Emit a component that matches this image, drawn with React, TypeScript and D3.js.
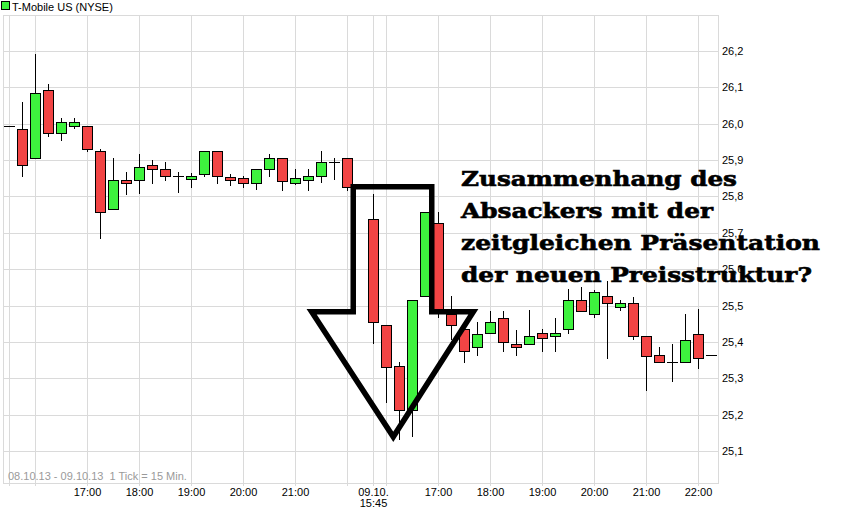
import React from 'react';
import * as d3 from 'd3';

// Time slots (x categories): day 1 and day 2, separated by an empty slot
const day1Times = ["15:30","15:45","16:00","16:15","16:30","16:45","17:00","17:15","17:30","17:45","18:00","18:15","18:30","18:45","19:00","19:15","19:30","19:45","20:00","20:15","20:30","20:45","21:00","21:15","21:30","21:45","22:00"];
const day2Times = ["15:45","16:00","16:15","16:30","16:45","17:00","17:15","17:30","17:45","18:00","18:15","18:30","18:45","19:00","19:15","19:30","19:45","20:00","20:15","20:30","20:45","21:00","21:15","21:30","21:45","22:00","22:15"];
const slots = [...day1Times.map(t => "08.10. " + t), "gap", ...day2Times.map(t => "09.10. " + t)];
const candleTimes = slots.filter(s => s !== "gap");

const opens = [25.993,25.985,25.905,26.092,25.974,25.993,25.993,25.924,25.765,25.844,25.844,25.886,25.875,25.855,25.847,25.861,25.924,25.853,25.850,25.836,25.875,25.905,25.836,25.844,25.855,25.894,25.905,
  25.737,25.446,25.333,25.212,25.525,25.726,25.476,25.435,25.385,25.424,25.465,25.393,25.393,25.424,25.415,25.435,25.514,25.476,25.525,25.495,25.506,25.415,25.363,25.344,25.344,25.421,25.363];
const highs = [25.993,26.060,26.192,26.109,26.016,26.016,25.993,25.931,25.906,25.867,25.917,25.900,25.895,25.867,25.864,25.924,25.924,25.861,25.855,25.875,25.917,25.905,25.875,25.875,25.924,25.905,25.905,
  25.807,25.446,25.344,25.514,25.756,25.756,25.526,25.455,25.455,25.484,25.485,25.433,25.488,25.435,25.465,25.545,25.550,25.542,25.567,25.514,25.523,25.415,25.385,25.393,25.476,25.490,25.363];
const lows = [25.993,25.854,25.905,25.964,25.953,25.985,25.923,25.683,25.765,25.805,25.808,25.835,25.843,25.810,25.824,25.854,25.835,25.830,25.824,25.819,25.854,25.814,25.831,25.814,25.836,25.844,25.814,
  25.393,25.231,25.129,25.139,25.525,25.465,25.405,25.343,25.361,25.424,25.373,25.362,25.393,25.373,25.373,25.421,25.484,25.465,25.354,25.484,25.404,25.264,25.341,25.289,25.344,25.325,25.363];
const closes = [25.993,25.886,26.084,25.974,26.004,26.004,25.930,25.756,25.844,25.836,25.880,25.875,25.855,25.855,25.855,25.924,25.855,25.844,25.836,25.875,25.905,25.842,25.850,25.855,25.894,25.894,25.825,
  25.455,25.332,25.212,25.514,25.756,25.482,25.446,25.374,25.421,25.454,25.399,25.385,25.415,25.410,25.424,25.514,25.484,25.536,25.506,25.506,25.415,25.360,25.344,25.344,25.404,25.355,25.363];

// Y ticks
const yTicks = [25.1,25.2,25.3,25.4,25.5,25.6,25.7,25.8,25.9,26.0,26.1,26.2];
// Vertical grid lines and x labels (slot names)
const gridSlots = ["08.10. 15:30","08.10. 16:00","08.10. 17:00","08.10. 18:00","08.10. 19:00","08.10. 20:00","08.10. 21:00","08.10. 22:00","09.10. 15:45","09.10. 16:00","09.10. 17:00","09.10. 18:00","09.10. 19:00","09.10. 20:00","09.10. 21:00","09.10. 22:00"];
const labelSlots = ["08.10. 17:00","08.10. 18:00","08.10. 19:00","08.10. 20:00","08.10. 21:00","09.10. 15:45","09.10. 17:00","09.10. 18:00","09.10. 19:00","09.10. 20:00","09.10. 21:00","09.10. 22:00"];
const labelTexts = [["17:00"],["18:00"],["19:00"],["20:00"],["21:00"],["09.10.","15:45"],["17:00"],["18:00"],["19:00"],["20:00"],["21:00"],["22:00"]];

// Annotation arrow in (slot index, price) space
const arrowIdx = [26.48, 32.52, 32.52, 35.72, 29.56, 23.28, 26.48];
const arrowVal = [25.827, 25.827, 25.483, 25.483, 25.139, 25.483, 25.483];
const noteLines = ["Zusammenhang des", "Absackers mit der", "zeitgleichen Präsentation", "der neuen Preisstruktur?"];
const noteWidths = [276, 252, 359, 351];

const title = "T-Mobile US (NYSE)";
const footer = "08.10.13 - 09.10.13  1 Tick = 15 Min.";

const W = 845, H = 520;
const L = 3, R = 718, T = 15, B = 483;
const RED = "#f24444";
const GREEN = "#3ef23e";
const GRID = "#dadada";

export default function App() {
  const xi = d3.scaleLinear().domain([0, slots.length - 1]).range([9, 9 + 13 * (slots.length - 1)]);
  const x = (s: string) => xi(slots.indexOf(s));
  const y = d3.scaleLinear().domain([25.1, 26.2]).range([451, 51]);
  const fmt = (v: number) => d3.format(".1f")(v).replace(".", ",");
  const crisp = (v: number) => Math.round(v) + 0.5;

  const arrowPts = arrowIdx.map((v, i) => [xi(v), y(arrowVal[i])] as [number, number]);
  const arrowPath = d3.line()(arrowPts) + "Z";

  const font = "'Liberation Sans', Arial, sans-serif";

  return (
    <svg width={W} height={H} style={{ position: 'absolute', left: 0, top: 0, background: '#fff' }}>
      <rect x={0} y={0} width={W} height={H} fill="#fff" />
      {/* grid */}
      {yTicks.map(t => (
        <line key={'h' + t} x1={L} x2={R} y1={crisp(y(t))} y2={crisp(y(t))} stroke={GRID} strokeWidth={1} />
      ))}
      {gridSlots.map(s => (
        <line key={'v' + s} x1={x(s) + 0.5} x2={x(s) + 0.5} y1={T} y2={B + 3} stroke={GRID} strokeWidth={1} />
      ))}
      <rect x={L + 0.5} y={T + 0.5} width={R - L} height={B - T} fill="none" stroke={GRID} strokeWidth={1} />

      {/* y labels */}
      {yTicks.map(t => (
        <text key={'yl' + t} x={722} y={y(t) + 4} fontFamily={font} fontSize={11} fill="#000">{fmt(t)}</text>
      ))}
      {/* x labels */}
      {labelSlots.map((s, i) => (
        <text key={'xl' + s} x={x(s) + 0.5} y={496} textAnchor="middle" fontFamily={font} fontSize={11} fill="#000">
          {labelTexts[i].map((ln, j) => (
            <tspan key={j} x={x(s) + 0.5} dy={j === 0 ? 0 : 10.5}>{ln}</tspan>
          ))}
        </text>
      ))}
      <text x={8} y={480} fontFamily={font} fontSize={11} fill="#9a9a9a" style={{ whiteSpace: 'pre' }}>{footer}</text>

      {/* legend */}
      <rect x={1.5} y={1.5} width={8} height={8} fill={GREEN} stroke="#000" strokeWidth={1} />
      <text x={12} y={11} fontFamily={font} fontSize={11} fill="#000">{title}</text>

      {/* candles */}
      {candleTimes.map((s, i) => {
        const cx = Math.round(x(s));
        const o = opens[i], c = closes[i], h = highs[i], l = lows[i];
        const yo = Math.round(y(o)), yc = Math.round(y(c));
        const yh = Math.round(y(h)), yl = Math.round(y(l));
        const flat = Math.abs(yo - yc) < 1;
        return (
          <g key={s}>
            {yh !== yl && <line x1={cx + 0.5} x2={cx + 0.5} y1={yh} y2={yl} stroke="#000" strokeWidth={1} />}
            {flat ? (
              <line x1={cx - 5} x2={cx + 6} y1={yo + 0.5} y2={yo + 0.5} stroke="#000" strokeWidth={1} />
            ) : (
              <rect x={cx - 4.5} y={Math.min(yo, yc) + 0.5} width={10} height={Math.abs(yo - yc)}
                fill={c > o ? GREEN : RED} stroke="#000" strokeWidth={1} />
            )}
          </g>
        );
      })}

      {/* annotation arrow */}
      <path d={arrowPath} fill="none" stroke="#000" strokeWidth={5.5} strokeLinejoin="miter" strokeMiterlimit={10} />

      {/* annotation text */}
      {noteLines.map((ln, i) => (
        <text key={'n' + i} x={461} y={186 + i * 32} fontFamily="'DejaVu Serif', serif" fontWeight="bold" fontSize={20.5}
          textLength={noteWidths[i]} lengthAdjust="spacingAndGlyphs" fill="#000" stroke="#000" strokeWidth={0.6}>{ln}</text>
      ))}
    </svg>
  );
}
